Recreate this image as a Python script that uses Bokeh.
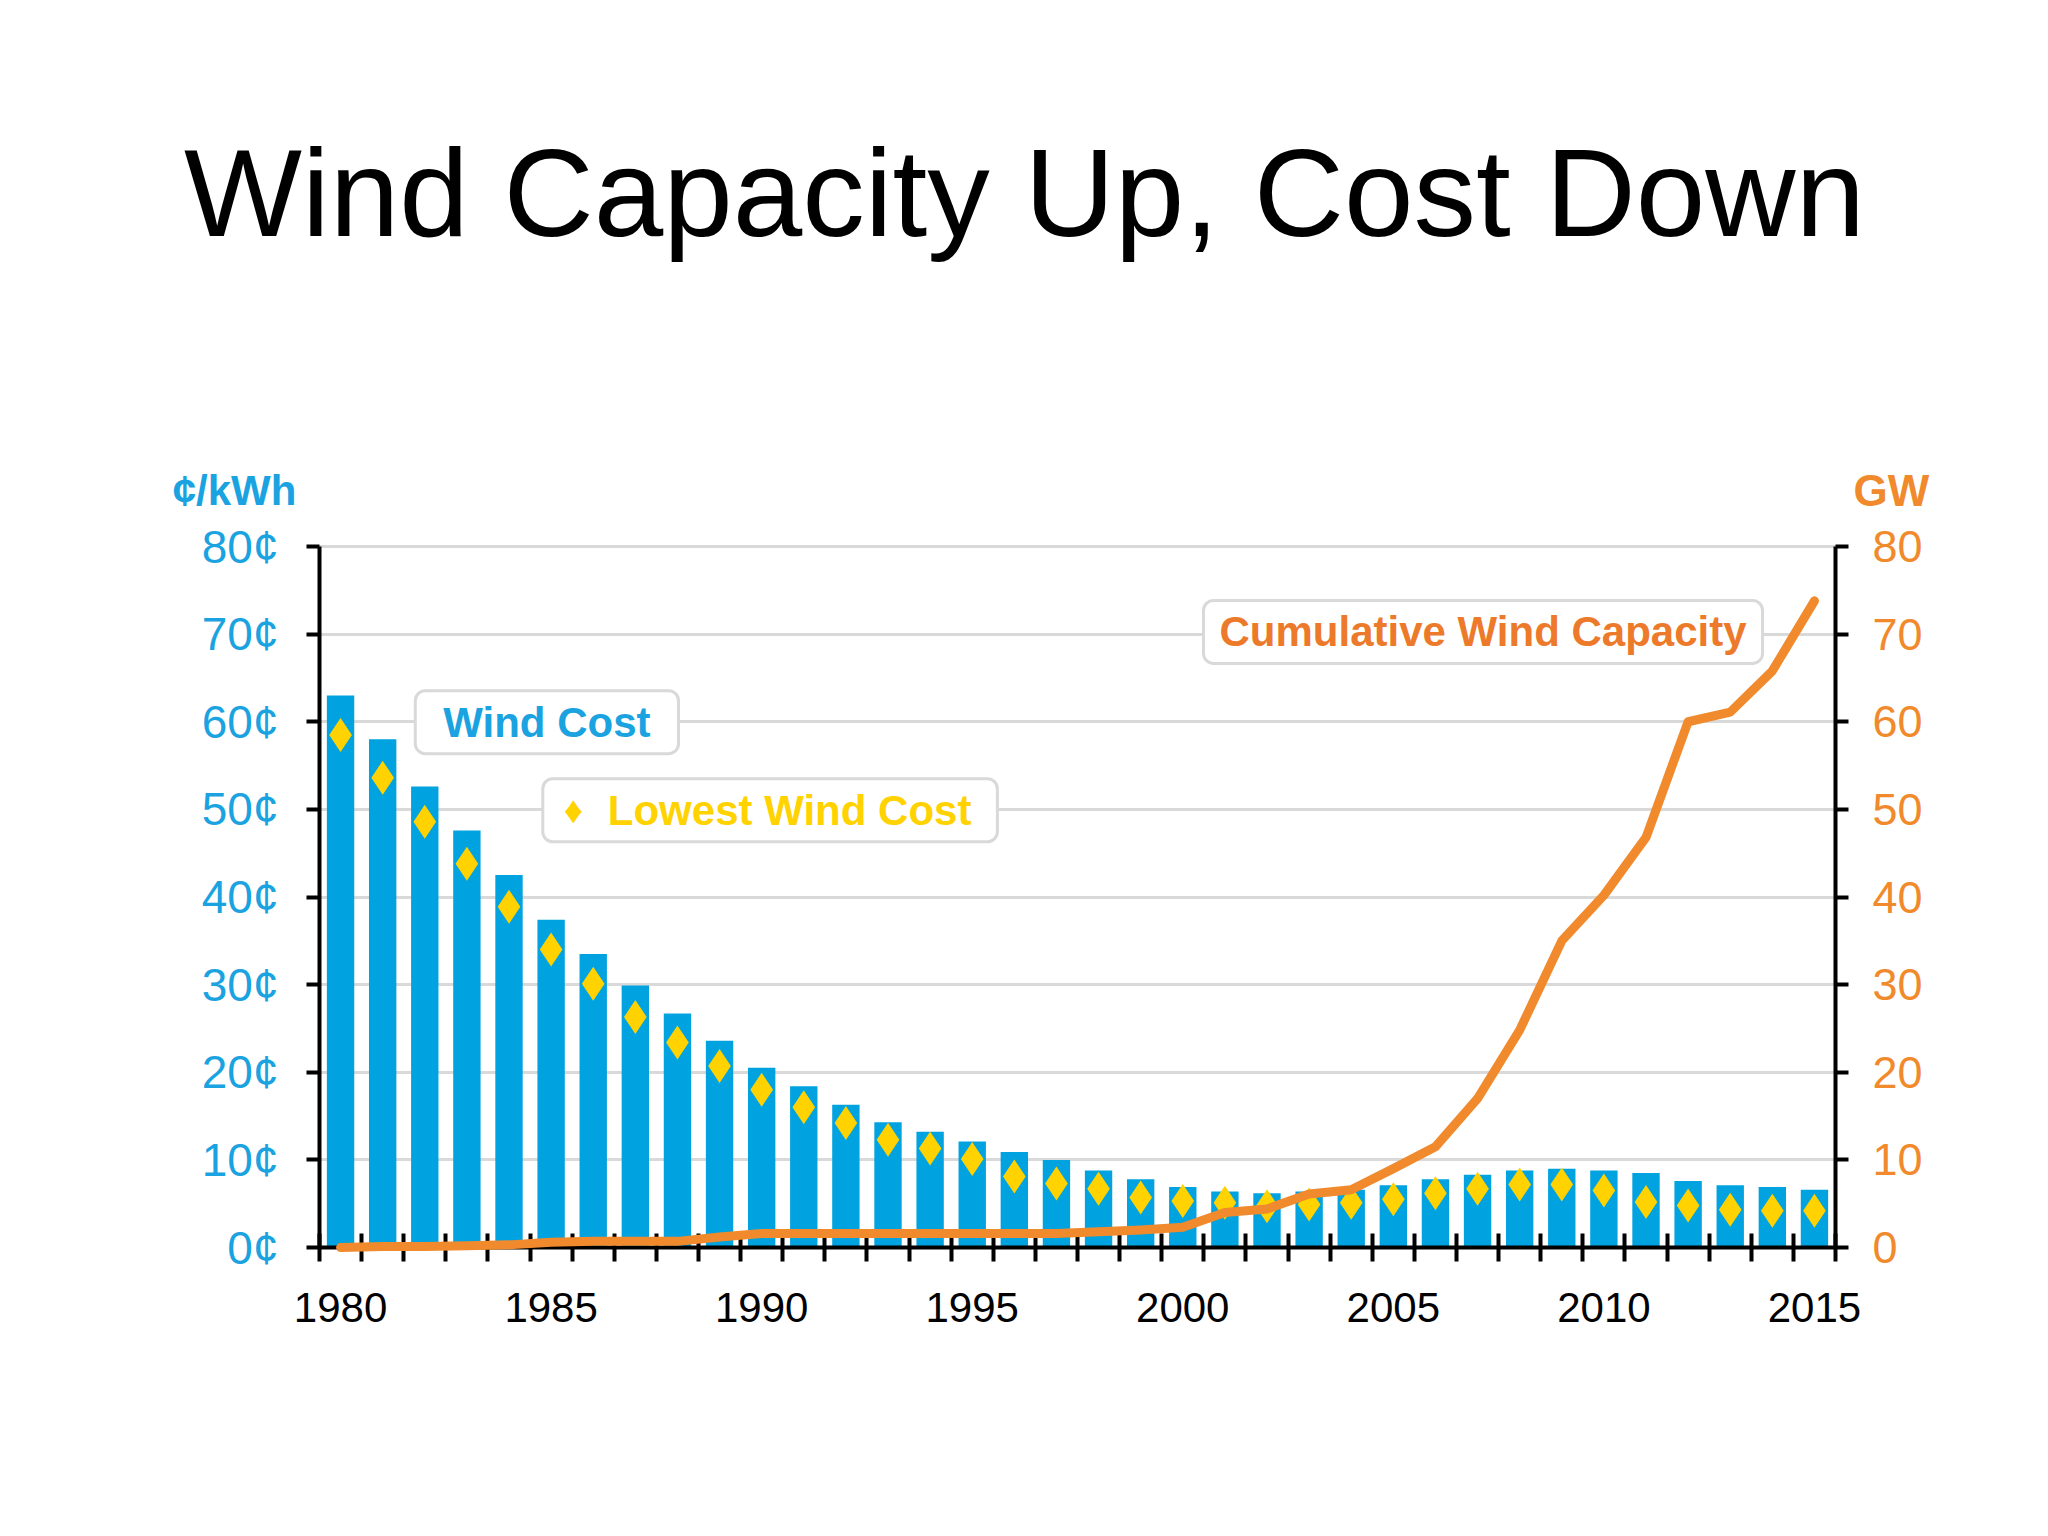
from bokeh.plotting import figure
from bokeh.models import Range1d, LinearAxis, FixedTicker, Label, ColumnDataSource
from bokeh.embed import file_html
from bokeh.resources import INLINE

# ---------------- data ----------------
years = list(range(1980, 2016))
wind_cost = [63.0, 58.0, 52.6, 47.6, 42.5, 37.4, 33.5, 29.9, 26.7, 23.6,
             20.5, 18.4, 16.3, 14.3, 13.2, 12.1, 10.9, 10.0, 8.8, 7.8,
             6.9, 6.4, 6.2, 6.4, 6.6, 7.1, 7.8, 8.3, 8.8, 9.0,
             8.8, 8.5, 7.6, 7.1, 6.9, 6.6]
lowest_cost = [58.5, 53.6, 48.6, 43.8, 38.9, 34.0, 30.1, 26.3, 23.4, 20.7,
               18.0, 16.0, 14.2, 12.3, 11.3, 10.1, 8.1, 7.3, 6.7, 5.7,
               5.3, 5.1, 4.7, 4.9, 5.1, 5.5, 6.2, 6.7, 7.2, 7.2,
               6.5, 5.2, 4.8, 4.3, 4.2, 4.2]
capacity_gw = [0.0, 0.1, 0.1, 0.2, 0.3, 0.6, 0.7, 0.7, 0.7, 1.2,
               1.6, 1.6, 1.6, 1.6, 1.6, 1.6, 1.6, 1.6, 1.8, 2.0,
               2.3, 4.0, 4.4, 6.1, 6.6, 9.0, 11.5, 17.0, 24.8, 35.0,
               40.2, 46.8, 60.0, 61.1, 65.8, 73.8]
x_tick_years = [1980, 1985, 1990, 1995, 2000, 2005, 2010, 2015]
x_tick_labels = ["1980", "1985", "1990", "1995", "2000", "2005", "2010", "2015"]
cost_ticks = [0, 10, 20, 30, 40, 50, 60, 70, 80]
cost_labels = ["0¢", "10¢", "20¢", "30¢", "40¢", "50¢", "60¢", "70¢", "80¢"]
gw_ticks = [0, 10, 20, 30, 40, 50, 60, 70, 80]
gw_labels = ["0", "10", "20", "30", "40", "50", "60", "70", "80"]

title_text = "Wind Capacity Up, Cost Down"
left_unit = "¢/kWh"
right_unit = "GW"
cost_name = "Wind Cost"
lowest_name = "Lowest Wind Cost"
capacity_name = "Cumulative Wind Capacity"

# ---------------- styles ----------------
BLUE = "#00A3E0"
BLUE_TXT = "#1AA3E0"
YELLOW = "#FFD200"
ORANGE = "#F08A2C"
ORANGE_TXT = "#EC7A2A"
GRID = "#D9D9D9"
FONT = "Liberation Sans"

W, H = 2040, 1530
# frame occupies page px x 150..1940, y 10..1400 ; chart area x 319..1835, y 546..1247
FR_L, FR_R, FR_T, FR_B = 150, 1940, 10, 1400
X_LO, X_HI = years[0] - 0.5, years[-1] + 0.5
PX_PER_YEAR = (1835 - 319) / (X_HI - X_LO)
PX_PER_UNIT = (1247 - 546) / 80.0
x_start = X_LO - (319 - FR_L) / PX_PER_YEAR
x_end = X_HI + (FR_R - 1835) / PX_PER_YEAR
y_top = (1247 - FR_T) / PX_PER_UNIT
y_bot = -(FR_B - 1247) / PX_PER_UNIT


def xd(px):
    return x_start + (px - FR_L) / PX_PER_YEAR


def yd(py):
    return y_top - (py - FR_T) / PX_PER_UNIT


src = ColumnDataSource(dict(year=years, cost=wind_cost, low=lowest_cost, gw=capacity_gw))

p = figure(width=W, height=H, output_backend="svg", toolbar_location=None,
           x_range=Range1d(x_start, x_end), y_range=Range1d(y_bot, y_top), title=None,
           min_border_left=FR_L, min_border_right=W - FR_R, min_border_top=FR_T,
           min_border_bottom=H - FR_B)
p.outline_line_color = None
p.background_fill_color = "white"
p.border_fill_color = "white"
p.extra_y_ranges = {"gw": Range1d(y_bot, y_top)}

# grid
p.xgrid.visible = False
p.ygrid.ticker = FixedTicker(ticks=cost_ticks)
p.ygrid.bounds = (0, 80)
p.ygrid.cross_bounds = (X_LO, X_HI)
p.ygrid.grid_line_color = GRID
p.ygrid.grid_line_width = 3

# x axis
xa = p.xaxis[0]
xa.fixed_location = 0
xa.bounds = (X_LO, X_HI)
xa.ticker = FixedTicker(ticks=x_tick_years,
                        minor_ticks=[y - 0.5 for y in years] + [years[-1] + 0.5])
xa.major_label_overrides = {t: s for t, s in zip(x_tick_years, x_tick_labels)}
xa.major_tick_line_color = None
xa.major_tick_in = 0
xa.major_tick_out = 0
xa.minor_tick_line_color = "black"
xa.minor_tick_line_width = 4
xa.minor_tick_in = 14
xa.minor_tick_out = 14
xa.axis_line_color = "black"
xa.axis_line_width = 4
xa.major_label_text_font = FONT
xa.major_label_text_font_size = "42px"
xa.major_label_text_color = "black"
xa.major_label_standoff = 31

# left axis
ya = p.yaxis[0]
ya.fixed_location = X_LO
ya.bounds = (0, 80)
ya.ticker = FixedTicker(ticks=cost_ticks)
ya.major_label_overrides = {t: s for t, s in zip(cost_ticks, cost_labels)}
ya.minor_tick_line_color = None
ya.major_tick_in = 0
ya.major_tick_out = 13
ya.major_tick_line_width = 4
ya.major_tick_line_color = "black"
ya.axis_line_width = 4
ya.axis_line_color = "black"
ya.major_label_text_font = FONT
ya.major_label_text_font_size = "46px"
ya.major_label_text_color = BLUE_TXT
ya.major_label_standoff = 28

# right axis
ra = LinearAxis(y_range_name="gw", ticker=FixedTicker(ticks=gw_ticks))
ra.fixed_location = X_HI
ra.bounds = (0, 80)
ra.major_label_overrides = {t: s for t, s in zip(gw_ticks, gw_labels)}
ra.minor_tick_line_color = None
ra.major_tick_in = 0
ra.major_tick_out = 13
ra.major_tick_line_width = 4
ra.major_tick_line_color = "black"
ra.axis_line_width = 4
ra.axis_line_color = "black"
ra.major_label_text_font = FONT
ra.major_label_text_font_size = "45px"
ra.major_label_text_color = ORANGE
ra.major_label_standoff = 24
p.add_layout(ra, "right")

# glyphs
p.vbar(x="year", top="cost", width=0.65, bottom=0, source=src,
       fill_color=BLUE, line_color=None)
p.scatter(x="year", y="low", source=src, marker="diamond", size=34,
          fill_color=YELLOW, line_color=None)
cap = p.line(x="year", y="gw", source=src, y_range_name="gw",
             line_color=ORANGE, line_width=9, line_join="round", line_cap="round")
cap.level = "overlay"

# title and unit labels
p.add_layout(Label(x=xd(1024), y=yd(192), text=title_text, text_align="center",
                   text_baseline="middle", text_font=FONT,
                   text_font_size="125px", text_color="black"))
p.add_layout(Label(x=xd(234), y=yd(490), text=left_unit, text_align="center",
                   text_baseline="middle", text_font=FONT,
                   text_font_style="bold", text_font_size="42px", text_color=BLUE_TXT))
p.add_layout(Label(x=xd(1891), y=yd(490), text=right_unit, text_align="center",
                   text_baseline="middle", text_font=FONT,
                   text_font_style="bold", text_font_size="44px", text_color=ORANGE))


# series labels in boxes
def box_label(x, y, text, color, pad):
    return Label(x=x, y=y, text=text, text_align="center", text_baseline="middle",
                 text_font=FONT, text_font_style="bold", text_font_size="42px",
                 text_color=color, background_fill_color="white",
                 border_line_color=GRID, border_line_width=3, border_radius=10,
                 padding=pad)


p.add_layout(box_label(1984.9, 59.95, cost_name, BLUE_TXT,
                       dict(left=28, right=28, top=8, bottom=8)))
p.add_layout(box_label(1990.2, 49.9, lowest_name, YELLOW,
                       dict(left=65, right=26, top=8, bottom=8)))
p.add_layout(box_label(2007.13, 70.25, capacity_name, ORANGE_TXT,
                       dict(left=16, right=16, top=8, bottom=8)))
p.add_layout(Label(x=1985.53, y=49.9, text="\u2666", text_align="center",
                   text_baseline="middle", text_font=FONT,
                   text_font_size="38px", text_color=YELLOW))

open("out.html", "w").write(file_html(p, INLINE))
